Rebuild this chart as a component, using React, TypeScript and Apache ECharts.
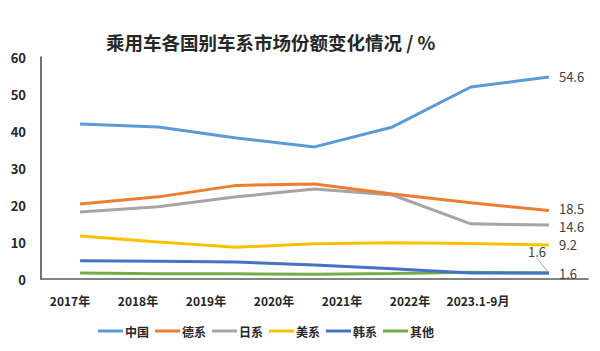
import React, { useEffect, useRef } from "react";
import * as echarts from "echarts";

const categories = ["2017年", "2018年", "2019年", "2020年", "2021年", "2022年", "2023.1-9月"];
const seriesNames = ["中国", "德系", "日系", "美系", "韩系", "其他"];
const china = [41.9, 41.1, 38.1, 35.7, 41.1, 51.9, 54.6];
const german = [20.3, 22.2, 25.3, 25.7, 23.0, 20.6, 18.5];
const japanese = [18.1, 19.5, 22.2, 24.3, 22.7, 14.9, 14.6];
const american = [11.6, 10.0, 8.6, 9.5, 9.8, 9.6, 9.2];
const korean = [4.9, 4.8, 4.6, 3.8, 2.8, 1.6, 1.6];
const others = [1.6, 1.4, 1.4, 1.3, 1.5, 1.8, 1.6];
const yTicks = [0, 60, 10];

const colors = ["#5B9BD5", "#ED7D31", "#A5A5A5", "#FFC000", "#4472C4", "#70AD47"];
const FONT = "'Noto Sans CJK SC', 'Noto Sans', sans-serif";

export default function App() {
  const ref = useRef<HTMLDivElement>(null);
  useEffect(() => {
    if (!ref.current) return;
    const chart = echarts.init(ref.current, null, { renderer: "svg" });
    const all = [china, german, japanese, american, korean, others];
    const last = categories.length - 1;
    const layouts: any[] = [undefined, { dy: -2 }, { dy: 2 }, undefined, { dx: -12, dy: -10 }, undefined];
    const series = all.map((d, i) => {
      const isKorean = i === 4;
      return {
        name: seriesNames[i],
        type: "line",
        xAxisIndex: 0,
        yAxisIndex: 0,
        data: d.map((v, j) =>
          j === last
            ? { value: v, label: { show: true }, labelLine: { show: isKorean } }
            : v
        ),
        symbol: "circle",
        symbolSize: 2,
        showSymbol: true,
        itemStyle: { color: "rgba(0,0,0,0)", borderWidth: 0 },
        lineStyle: { width: 3, color: colors[i] },
        emphasis: { disabled: true },
        z: 10 - i,
        label: {
          show: false,
          position: isKorean ? "top" : "right",
          distance: isKorean ? 4 : 9,
          fontFamily: FONT,
          fontSize: 13,
          color: "#404040",
        },
        labelLayout: layouts[i],
        labelLine: { show: false, lineStyle: { color: "#A5A5A5", width: 1 } },
      };
    });
    chart.setOption({
      animation: false,
      title: {
        text: "乘用车各国别车系市场份额变化情况 / %",
        left: 101,
        top: 28,
        textStyle: { fontFamily: FONT, fontSize: 18.5, fontWeight: "bold", color: "#262626" },
      },
      legend: {
        data: seriesNames.map((n, i) => ({ name: n, itemStyle: { color: colors[i] } })),
        left: 93,
        top: 320,
        itemWidth: 25,
        itemHeight: 3,
        itemGap: 6,
        icon: "rect",
        textStyle: { fontFamily: FONT, fontSize: 12, fontWeight: "bold", color: "#262626", padding: [0, 0, 0, -3] },
      },
      grid: [
        { left: 41, right: 12, top: 57, bottom: 72 },
        { left: 36, width: 476, top: 57, bottom: 72 },
      ],
      xAxis: [
        {
          type: "category",
          gridIndex: 0,
          data: categories,
          boundaryGap: true,
          axisLine: { show: true, lineStyle: { color: "#595959", width: 1.5 } },
          axisTick: { show: false },
          axisLabel: { show: false },
        },
        {
          type: "category",
          gridIndex: 1,
          data: categories,
          boundaryGap: true,
          axisLine: { show: false },
          axisTick: { show: false },
          axisLabel: {
            margin: 15,
            interval: 0,
            fontFamily: FONT,
            fontSize: 12,
            fontWeight: "bold",
            color: "#262626",
          },
        },
      ],
      yAxis: [
        {
          type: "value",
          gridIndex: 0,
          min: yTicks[0],
          max: yTicks[1],
          interval: yTicks[2],
          axisLine: { show: true, lineStyle: { color: "#404040", width: 1.5 } },
          axisTick: { show: false },
          splitLine: { show: false },
          axisLabel: {
            margin: 15,
            fontFamily: FONT,
            fontSize: 13,
            fontWeight: "bold",
            color: "#262626",
          },
        },
        {
          type: "value",
          gridIndex: 1,
          min: yTicks[0],
          max: yTicks[1],
          show: false,
        },
      ],
      series,
    });
    return () => chart.dispose();
  }, []);
  return (
    <div
      ref={ref}
      style={{ position: "fixed", left: 0, top: 0, width: 600, height: 351, background: "#fff" }}
    />
  );
}
